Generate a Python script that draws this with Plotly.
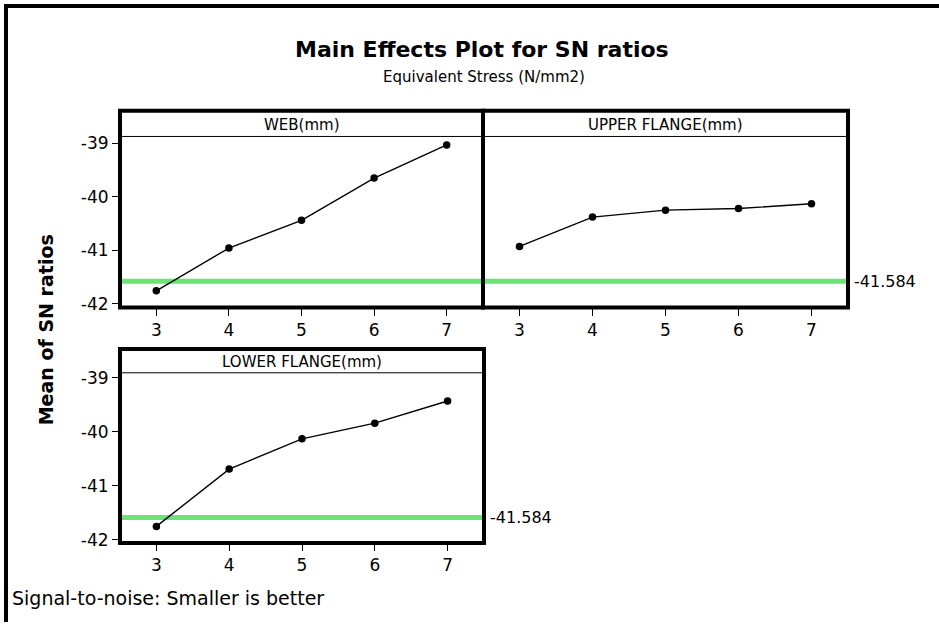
import plotly.graph_objects as go

# ---------------- data ----------------
levels = [3, 4, 5, 6, 7]
web = [-41.76, -40.96, -40.44, -39.65, -39.03]
upper_flange = [-40.93, -40.38, -40.25, -40.22, -40.13]
lower_flange = [-41.75, -40.69, -40.13, -39.84, -39.43]
overall_mean = -41.584
panel_titles = ["WEB(mm)", "UPPER FLANGE(mm)", "LOWER FLANGE(mm)"]
y_ticks = [-42, -41, -40, -39]
title = "<b>Main Effects Plot for SN ratios</b>"
subtitle = "Equivalent Stress (N/mm2)"
y_title = "<b>Mean of SN ratios</b>"
footer = "Signal-to-noise: Smaller is better"

# ---------------- layout helpers ----------------
W, H = 939, 629
FONT = "DejaVu Sans"


def px(x):
    return x / W


def py(y):
    return 1 - y / H


panels = [
    dict(x0=120, x1=483, top=112, bottom=311, strip=138, yr=[-42.074, -38.389],
         data=web, ylabels=True, mean_label=False),
    dict(x0=483, x1=848, top=112, bottom=311, strip=138, yr=[-42.074, -38.389],
         data=upper_flange, ylabels=False, mean_label=True),
    dict(x0=120, x1=484, top=353, bottom=549, strip=377, yr=[-42.055, -38.47],
         data=lower_flange, ylabels=True, mean_label=True),
]

fig = go.Figure()
shapes = []
annotations = []
layout_axes = {}

for i, (p, name) in enumerate(zip(panels, panel_titles), start=1):
    xa = "x" if i == 1 else f"x{i}"
    ya = "y" if i == 1 else f"y{i}"
    xkey = "xaxis" if i == 1 else f"xaxis{i}"
    ykey = "yaxis" if i == 1 else f"yaxis{i}"

    fig.add_trace(go.Scatter(
        x=levels, y=p["data"], mode="lines+markers",
        line=dict(color="black", width=1.4),
        marker=dict(color="black", size=7.5),
        xaxis=xa, yaxis=ya, showlegend=False, hoverinfo="skip",
    ))

    layout_axes[xkey] = dict(
        domain=[px(p["x0"]), px(p["x1"])], range=[2.5, 7.5], anchor=ya,
        tickvals=levels, ticktext=[str(v) for v in levels],
        ticks="outside", ticklen=7, tickwidth=1, tickcolor="black",
        showgrid=False, zeroline=False, showline=False,
        tickfont=dict(family=FONT, size=17, color="black"),
        fixedrange=True,
    )
    layout_axes[ykey] = dict(
        domain=[py(p["bottom"]), py(p["top"])], range=p["yr"], anchor=xa,
        tickvals=y_ticks, ticktext=[str(v) for v in y_ticks],
        ticks="outside" if p["ylabels"] else "", ticklen=7, tickwidth=1,
        tickcolor="black", showticklabels=p["ylabels"],
        showgrid=False, zeroline=False, showline=False,
        tickfont=dict(family=FONT, size=17, color="black"),
        fixedrange=True,
    )

    # reference (mean) line
    shapes.append(dict(type="line", xref=f"{xa} domain", yref=ya,
                       x0=0, x1=1, y0=overall_mean, y1=overall_mean,
                       line=dict(color="#6BE375", width=5), layer="below"))
    # strip separator
    shapes.append(dict(type="line", xref="paper", yref="paper",
                       x0=px(p["x0"]), x1=px(p["x1"]),
                       y0=py(p["strip"]), y1=py(p["strip"]),
                       line=dict(color="black", width=1)))
    # panel frame
    shapes.append(dict(type="rect", xref="paper", yref="paper",
                       x0=px(p["x0"]), x1=px(p["x1"]),
                       y0=py(p["bottom"]), y1=py(p["top"]),
                       line=dict(color="black", width=4)))
    # strip title
    annotations.append(dict(text=name, xref="paper", yref="paper",
                            x=px((p["x0"] + p["x1"]) / 2),
                            y=py((p["top"] + p["strip"]) / 2 + 1),
                            showarrow=False, xanchor="center", yanchor="middle",
                            font=dict(family=FONT, size=15, color="black")))
    if p["mean_label"]:
        annotations.append(dict(text=f"{overall_mean:.3f}", xref="paper", yref=ya,
                                x=px(p["x1"] + 4), y=overall_mean,
                                showarrow=False, xanchor="left", yanchor="middle",
                                font=dict(family=FONT, size=16, color="black")))

# outer border (top and left)
shapes.append(dict(type="line", xref="paper", yref="paper",
                   x0=px(4), x1=1.0, y0=py(6), y1=py(6),
                   line=dict(color="black", width=4)))
shapes.append(dict(type="line", xref="paper", yref="paper",
                   x0=px(6), x1=px(6), y0=py(4), y1=0,
                   line=dict(color="black", width=4)))

annotations += [
    dict(text=title, xref="paper", yref="paper", x=px(482), y=py(50),
         showarrow=False, xanchor="center", yanchor="middle",
         font=dict(family=FONT, size=22, color="black")),
    dict(text=subtitle, xref="paper", yref="paper", x=px(484), y=py(78),
         showarrow=False, xanchor="center", yanchor="middle",
         font=dict(family=FONT, size=15, color="black")),
    dict(text=y_title, xref="paper", yref="paper", x=px(46), y=py(334),
         showarrow=False, xanchor="center", yanchor="middle", textangle=-90,
         font=dict(family=FONT, size=19, color="black")),
    dict(text=footer, xref="paper", yref="paper", x=px(10), y=py(605),
         showarrow=False, xanchor="left", yanchor="middle",
         font=dict(family=FONT, size=19, color="black")),
]

fig.update_layout(
    width=W, height=H,
    margin=dict(l=0, r=0, t=0, b=0),
    paper_bgcolor="white", plot_bgcolor="white",
    shapes=shapes, annotations=annotations,
    showlegend=False,
    **layout_axes,
)

fig.write_html("out.html",
               config={"displayModeBar": False, "staticPlot": True},
               post_script="document.body.style.margin='0';document.body.style.padding='0';")
